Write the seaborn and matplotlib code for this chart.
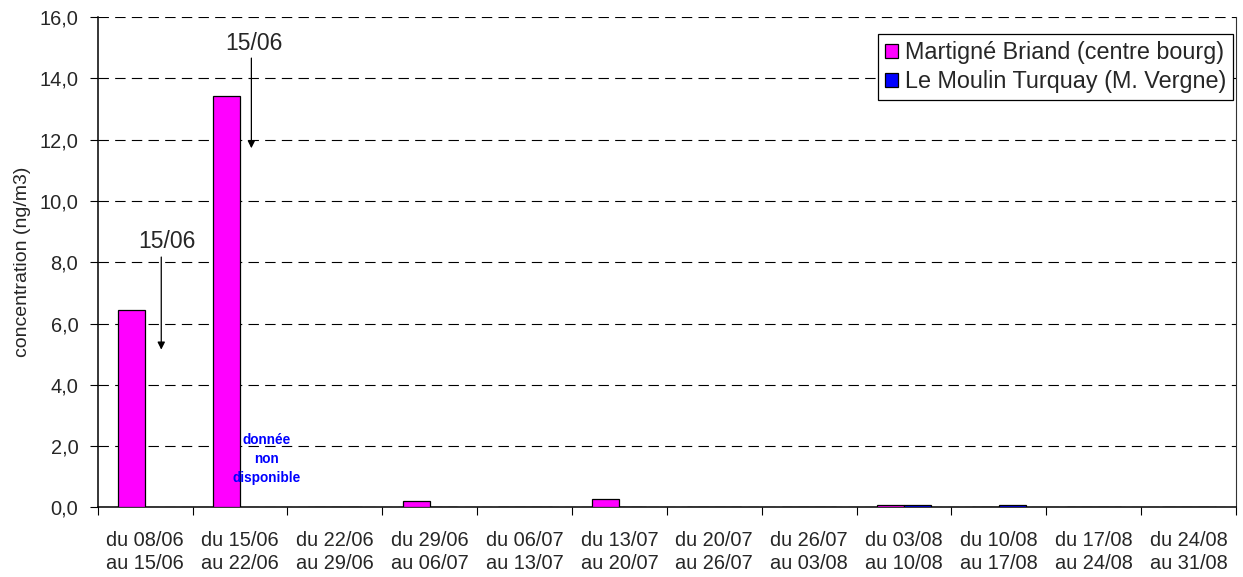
import matplotlib
matplotlib.use("Agg")
import matplotlib.pyplot as plt
import matplotlib.ticker as mticker
from matplotlib.patches import Patch
import numpy as np
import pandas as pd
import seaborn as sns

# ---- data ----
periods = ["du 08/06\nau 15/06", "du 15/06\nau 22/06", "du 22/06\nau 29/06",
           "du 29/06\nau 06/07", "du 06/07\nau 13/07", "du 13/07\nau 20/07",
           "du 20/07\nau 26/07", "du 26/07\nau 03/08", "du 03/08\nau 10/08",
           "du 10/08\nau 17/08", "du 17/08\nau 24/08", "du 24/08\nau 31/08"]
series_names = ["Martigné Briand (centre bourg)", "Le Moulin Turquay (M. Vergne)"]
martigne = [6.43, 13.41, 0.0, 0.21, 0.0, 0.29, 0.0, 0.0, 0.07, 0.0, 0.0, 0.0]
moulin = [np.nan, np.nan, 0.0, 0.0, 0.0, 0.0, 0.0, 0.0, 0.07, 0.07, 0.0, 0.0]
colors = ["#FF00FF", "#0000FF"]
y_ticks = [0, 2, 4, 6, 8, 10, 12, 14, 16]

df = pd.DataFrame({
    "period": periods * 2,
    "site": [series_names[0]] * len(periods) + [series_names[1]] * len(periods),
    "value": martigne + moulin,
})

sns.set_style("white")
plt.rcParams["font.family"] = ["Liberation Sans", "DejaVu Sans"]
plt.rcParams["lines.scale_dashes"] = False

fig = plt.figure(figsize=(12.43, 5.77), dpi=100)
ax = fig.add_axes([0.0786, 0.1205, 0.9158, 0.85])

sns.barplot(data=df, x="period", y="value", hue="site", order=periods,
            hue_order=series_names, palette=colors, saturation=1,
            width=0.57, edgecolor="black", linewidth=0.9, errorbar=None,
            legend=False, ax=ax, zorder=3)

ax.set_xlim(-0.5, len(periods) - 0.5)
ax.set_ylim(0, 16)
ax.set_yticks(y_ticks)
ax.yaxis.set_major_formatter(mticker.FuncFormatter(lambda v, p: f"{v:.1f}".replace(".", ",")))
ax.yaxis.grid(True, color="black", linewidth=0.8, linestyle=(0, (7.5, 4.5)), zorder=0)
ax.xaxis.grid(False)
ax.set_axisbelow(True)

ax.tick_params(axis="y", which="major", direction="out", length=6, width=0.8,
               color="black", pad=8, labelsize=14.4, left=True)
ax.set_xticks(range(len(periods)))
ax.set_xticklabels(periods, fontsize=14.4, linespacing=1.25)
ax.set_xticks(np.arange(-0.5, len(periods), 1.0), minor=True)
ax.tick_params(axis="x", which="major", length=0, pad=17)
ax.tick_params(axis="x", which="minor", direction="out", length=6, width=0.8,
               color="black", bottom=True)

ax.set_xlabel("")
ax.set_ylabel("concentration (ng/m3)", fontsize=14, labelpad=6)

for side in ["left", "bottom"]:
    ax.spines[side].set_color("black")
    ax.spines[side].set_linewidth(1.1)
ax.spines["right"].set_color("#333333")
ax.spines["right"].set_linewidth(0.8)
ax.spines["top"].set_visible(False)

# annotations
arrow = dict(arrowstyle="-|>", color="black", lw=0.9, mutation_scale=11,
             shrinkA=0, shrinkB=0)
ax.annotate("", xy=(0.17, 5.15), xytext=(0.17, 8.17), arrowprops=arrow, zorder=5)
ax.text(0.23, 8.68, "15/06", fontsize=16.5, ha="center", va="center", zorder=5)
ax.annotate("", xy=(1.12, 11.72), xytext=(1.12, 14.66), arrowprops=arrow, zorder=5)
ax.text(1.15, 15.15, "15/06", fontsize=16.5, ha="center", va="center", zorder=5)

ax.text(1.28, 1.57, "donnée\nnon\ndisponible", fontsize=9.8, fontweight="bold",
        color="#0000FF", ha="center", va="center", multialignment="center",
        linespacing=1.45, zorder=5)

handles = [Patch(facecolor=c, edgecolor="black", linewidth=0.9) for c in colors]
leg = ax.legend(handles, series_names, loc="upper right",
                bbox_to_anchor=(0.9974, 0.9654), borderaxespad=0,
                fontsize=16.8, frameon=True, fancybox=False, framealpha=1,
                edgecolor="black", handlelength=0.55, handleheight=0.55,
                handletextpad=0.3, borderpad=0.3, labelspacing=0.25)
leg.get_frame().set_linewidth(0.9)

fig.savefig("out.png", dpi=100)
